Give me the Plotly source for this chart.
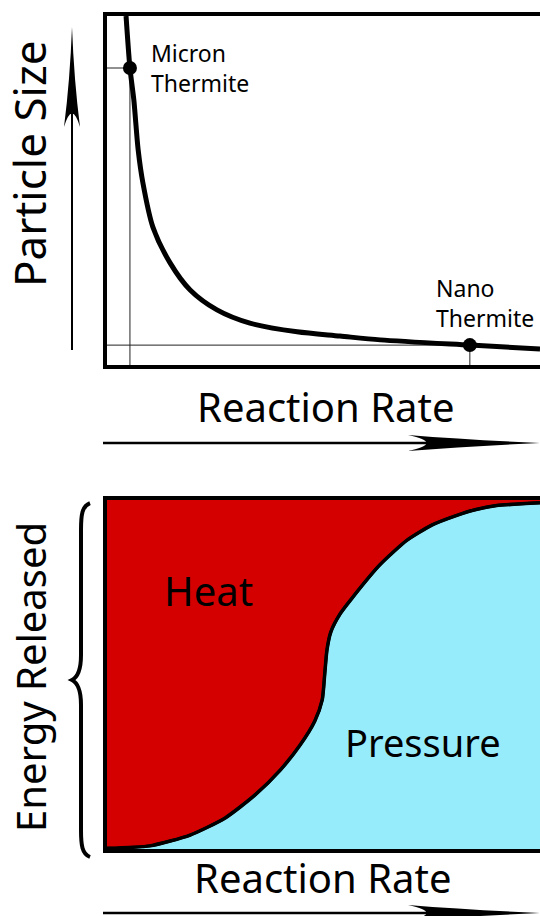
import plotly.graph_objects as go

# ---------------- data (0-100 on both axes) ----------------
# top panel: particle size vs reaction rate
size_rate = [4.4, 5.3, 6.2, 7.2, 8.3, 10.6, 14.6, 19.2, 25.4, 33.0, 43.9, 53.8, 63.1, 83.8, 100]
size_val = [100, 85.1, 75.9, 61.6, 52.1, 39.5, 29.2, 21.5, 15.8, 12.0, 9.5, 8.3, 7.2, 5.7, 4.6]

point_names = ["Micron<br>Thermite", "Nano<br>Thermite"]
point_rate = [5.3, 83.8]
point_size = [85.1, 5.7]

# bottom panel: split of energy released (heat above, pressure below)
split_rate = [0, 9.9, 19.2, 27.3, 34.2, 40.0, 44.6, 48.0, 49.7, 50.3, 50.8, 51.7, 53.8, 56.6,
              63.0, 69.3, 75.0, 80.8, 85.0, 90.0, 100]
split_val = [0.2, 0.9, 4.0, 8.9, 15.5, 22.6, 29.8, 36.7, 42.7, 50.4, 57.0, 62.2, 67.3, 71.9,
             81.4, 88.5, 92.8, 95.6, 97.2, 98.4, 99.2]

RED = "#d40000"
CYAN = "#97ecfc"
FONT = "Noto Sans, Open Sans, sans-serif"

W, H = 540, 916


# pixel -> paper helpers for the decorations
def fx(x):
    return x / W


def fy(y):
    return 1 - y / H


def pth(cmds):
    out = []
    for c in cmds:
        if isinstance(c, str):
            out.append(c)
        else:
            out.append("%.5f,%.5f" % (fx(c[0]), fy(c[1])))
    return " ".join(out)


fig = go.Figure()

# ------------------------------> top panel <------------------------------
for r, s in zip(point_rate, point_size):
    fig.add_trace(go.Scatter(x=[0, r, r], y=[s, s, 0], mode="lines",
                             line=dict(color="#222", width=1), xaxis="x", yaxis="y"))
fig.add_trace(go.Scatter(x=size_rate, y=size_val, mode="lines",
                         line=dict(color="black", width=5, shape="spline", smoothing=0.8),
                         xaxis="x", yaxis="y"))
fig.add_trace(go.Scatter(x=point_rate, y=point_size, mode="markers",
                         marker=dict(color="black", size=14), xaxis="x", yaxis="y"))

# ------------------------------> bottom panel <------------------------------
fig.add_trace(go.Scatter(x=split_rate, y=split_val, mode="lines", fill="tozeroy",
                         fillcolor=CYAN, line=dict(color="black", width=3, shape="spline", smoothing=0.6),
                         xaxis="x2", yaxis="y2"))
fig.add_trace(go.Scatter(x=[0, 100], y=[100, 100], mode="lines", fill="tonexty",
                         fillcolor=RED, line=dict(color="black", width=0),
                         xaxis="x2", yaxis="y2"))
# redraw curve on top of the red fill
fig.add_trace(go.Scatter(x=split_rate, y=split_val, mode="lines",
                         line=dict(color="black", width=3.5, shape="spline", smoothing=0.6),
                         xaxis="x2", yaxis="y2"))

axis_common = dict(range=[0, 100], showgrid=False, zeroline=False, showticklabels=False,
                   ticks="", showline=True, linecolor="black", linewidth=4, fixedrange=True)

fig.update_layout(
    width=W, height=H,
    margin=dict(l=0, r=0, t=0, b=0),
    paper_bgcolor="white", plot_bgcolor="white",
    showlegend=False,
    font=dict(family=FONT, color="black"),
    xaxis=dict(domain=[107 / W, 1], anchor="y", mirror=True, **axis_common),
    yaxis=dict(domain=[1 - 365 / H, 1 - 16 / H], anchor="x", mirror=False, **axis_common),
    xaxis2=dict(domain=[107 / W, 1], anchor="y2", mirror=True, **axis_common),
    yaxis2=dict(domain=[1 - 849 / H, 1 - 500 / H], anchor="x2", mirror=False, **axis_common),
)

# ------------------------------> texts <------------------------------
texts = [
    ("Particle Size", 29, 164, 44, -90, "center"),
    ("Reaction Rate", 325, 407, 40, 0, "center"),
    ("Energy Released", 30, 677, 40, -90, "center"),
    ("Reaction Rate", 322, 877, 40, 0, "center"),
    ("Heat", 208, 590, 40, 0, "center"),
    ("Pressure", 423, 742, 38, 0, "center"),
    (point_names[0], 149, 68, 23, 0, "left"),
    (point_names[1], 434, 303, 23, 0, "left"),
]
for t, x, y, sz, ang, anc in texts:
    fig.add_annotation(text=t, x=fx(x), y=fy(y), xref="paper", yref="paper",
                       xanchor=anc, yanchor="middle", align="left", showarrow=False,
                       textangle=ang, font=dict(size=sz, family=FONT, color="black"))

# ------------------------------> arrows and brace <------------------------------
shapes = []
# vertical arrow (particle size)
shapes.append(dict(type="line", xref="paper", yref="paper", x0=fx(72), y0=fy(350), x1=fx(72), y1=fy(110),
                   line=dict(color="black", width=2)))
shapes.append(dict(type="path", xref="paper", yref="paper", fillcolor="black", line=dict(width=0),
                   path=pth(["M", (72, 27), "Q", (74, 80), (80, 127), "Q", (72, 100), (64, 127),
                             "Q", (70, 80), (72, 27), "Z"])))
# horizontal arrows (reaction rate)
for yy in [443, 913]:
    shapes.append(dict(type="line", xref="paper", yref="paper", x0=fx(103), y0=fy(yy), x1=fx(440), y1=fy(yy),
                       line=dict(color="black", width=2.5)))
    shapes.append(dict(type="path", xref="paper", yref="paper", fillcolor="black", line=dict(width=0),
                       path=pth(["M", (540, yy), "Q", (470, yy - 3), (408, yy - 8), "Q", (445, yy), (408, yy + 8),
                                 "Q", (470, yy + 3), (540, yy), "Z"])))
# brace (energy released)
shapes.append(dict(type="path", xref="paper", yref="paper", line=dict(color="black", width=4),
                   path=pth(["M", (90, 503), "C", (82, 506), (81, 515), (81, 530), "L", (81, 655),
                             "C", (81, 670), (78, 677), (72, 680), "C", (78, 683), (81, 690), (81, 705),
                             "L", (81, 830), "C", (81, 845), (82, 854), (90, 857)])))
fig.update_layout(shapes=shapes)

fig.write_html("out.html", config={"displayModeBar": False},
               post_script="document.body.style.margin='0';document.body.style.overflow='hidden';")
